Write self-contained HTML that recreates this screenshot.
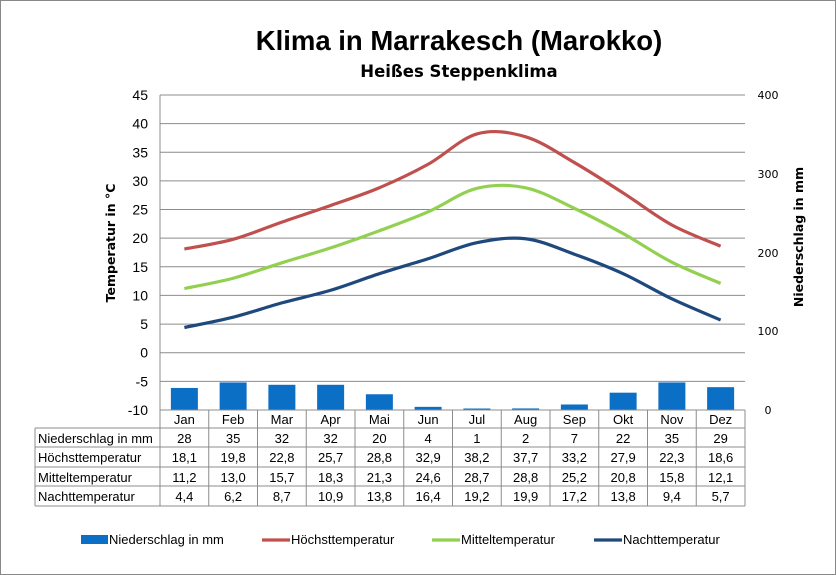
<!DOCTYPE html>
<html><head><meta charset="utf-8"><style>
body{margin:0;background:#fff}
svg{display:block;font-family:"Liberation Sans",Arial,sans-serif}
</style></head><body>
<svg id="s" width="836" height="575" viewBox="0 0 836 575" xmlns="http://www.w3.org/2000/svg">
<rect x="0.5" y="0.5" width="835" height="574" fill="#fff" stroke="#888"/>
<text x="459" y="50" font-size="27.5" font-weight="bold" text-anchor="middle">Klima in Marrakesch (Marokko)</text>
<text x="459" y="77" font-size="16.5" font-weight="bold" text-anchor="middle" font-family="DejaVu Sans, sans-serif">Heißes Steppenklima</text>
<text transform="translate(115,243) rotate(-90)" font-size="12.5" font-weight="bold" text-anchor="middle" font-family="DejaVu Sans, sans-serif">Temperatur in °C</text>
<text transform="translate(803,237) rotate(-90)" font-size="12.5" font-weight="bold" text-anchor="middle" font-family="DejaVu Sans, sans-serif">Niederschlag in mm</text>
<g id="g"></g>
</svg>
<script>
var g=document.getElementById('g'),h='';
function y(v){return 352.7-v*5.727;}
for(var v=45;v>=-10;v-=5){var yy=y(v);h+='<line x1="160" x2="745" y1="'+yy+'" y2="'+yy+'" stroke="#8c8c8c"/>';h+='<text x="148" y="'+(yy+5)+'" font-size="14" text-anchor="end">'+v+'</text>';}
h+='<line x1="160" x2="160" y1="95" y2="410" stroke="#8c8c8c"/>';
[[400,95],[300,174],[200,253],[100,331],[0,410]].forEach(function(a){h+='<text x="768" y="'+(a[1]+4)+'" font-size="11" text-anchor="middle" font-family="DejaVu Sans, sans-serif">'+a[0]+'</text>';});
var M=['Jan','Feb','Mar','Apr','Mai','Jun','Jul','Aug','Sep','Okt','Nov','Dez'];
var N=[28,35,32,32,20,4,1,2,7,22,35,29];
var H=[18.1,19.8,22.8,25.7,28.8,32.9,38.2,37.7,33.2,27.9,22.3,18.6];
var Mi=[11.2,13.0,15.7,18.3,21.3,24.6,28.7,28.8,25.2,20.8,15.8,12.1];
var Na=[4.4,6.2,8.7,10.9,13.8,16.4,19.2,19.9,17.2,13.8,9.4,5.7];
var w=48.75;function cx(i){return 160+w*(i+.5);}
N.forEach(function(n,i){var hh=Math.max(n*0.7875,1.5);h+='<rect x="'+(cx(i)-13.5)+'" y="'+(410-hh)+'" width="27" height="'+hh+'" fill="#0c6fc6"/>';});
function curve(d,c){var p=d.map(function(v,i){return [cx(i),y(v)];});var s='M'+p[0][0]+','+p[0][1];
for(var i=0;i<p.length-1;i++){var p0=p[i-1]||p[i],p1=p[i],p2=p[i+1],p3=p[i+2]||p2;
s+=' C'+(p1[0]+(p2[0]-p0[0])/6)+','+(p1[1]+(p2[1]-p0[1])/6)+' '+(p2[0]-(p3[0]-p1[0])/6)+','+(p2[1]-(p3[1]-p1[1])/6)+' '+p2[0]+','+p2[1];}
h+='<path d="'+s+'" fill="none" stroke="'+c+'" stroke-width="3.2"/>';}
curve(H,'#c0504d');curve(Mi,'#92d050');curve(Na,'#1f497d');
var rows=[428,447,467,486,506];
h+='<line x1="160" x2="745" y1="410" y2="410" stroke="#8c8c8c"/>';
rows.forEach(function(r){h+='<line x1="35" x2="745" y1="'+r+'" y2="'+r+'" stroke="#8c8c8c"/>';});
h+='<line x1="35" x2="35" y1="428" y2="506" stroke="#8c8c8c"/>';
for(var i=0;i<=12;i++){var x=160+w*i;h+='<line x1="'+x+'" x2="'+x+'" y1="410" y2="506" stroke="#8c8c8c"/>';}
var labels=['Niederschlag in mm','Höchsttemperatur','Mitteltemperatur','Nachttemperatur'];
var data=[N,H,Mi,Na];
M.forEach(function(m,i){h+='<text x="'+cx(i)+'" y="424" font-size="13" text-anchor="middle">'+m+'</text>';});
labels.forEach(function(l,r){var ty=rows[r]+15;h+='<text x="38" y="'+ty+'" font-size="13">'+l+'</text>';
data[r].forEach(function(v,i){var t=r==0?String(v):v.toFixed(1).replace('.',',');h+='<text x="'+cx(i)+'" y="'+ty+'" font-size="13" text-anchor="middle">'+t+'</text>';});});
h+='<rect x="81" y="535" width="27" height="9" fill="#0c6fc6"/><text x="109" y="544" font-size="13">Niederschlag in mm</text>';
[[262,'#c0504d','Höchsttemperatur'],[432,'#92d050','Mitteltemperatur'],[594,'#1f497d','Nachttemperatur']].forEach(function(a){
h+='<line x1="'+a[0]+'" x2="'+(a[0]+28)+'" y1="540" y2="540" stroke="'+a[1]+'" stroke-width="3.2"/><text x="'+(a[0]+29)+'" y="544" font-size="13">'+a[2]+'</text>';});
g.innerHTML=h;
</script>
</body></html>
